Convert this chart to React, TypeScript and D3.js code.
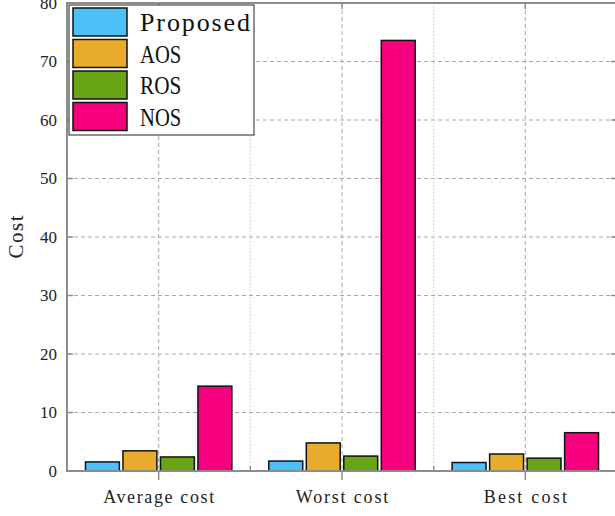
import React from 'react';
import * as d3 from 'd3';

const categories = ['Average cost', 'Worst cost', 'Best cost'];
const seriesNames = ['Proposed', 'AOS', 'ROS', 'NOS'];
const seriesColors = ['#4dbff9', '#e8ab2c', '#68a414', '#f7007f'];
const proposed = [1.55, 1.7, 1.45];
const aos = [3.45, 4.8, 2.9];
const ros = [2.4, 2.55, 2.2];
const nos = [14.5, 73.6, 6.55];
const yTicks = [0, 10, 20, 30, 40, 50, 60, 70, 80];

const W = 615, H = 516;
const L = 67, R = 617, T = 3, B = 471;

export default function App() {
  const series = [proposed, aos, ros, nos];
  const x = d3.scaleLinear().domain([0.5, 3.5]).range([L, R]);
  const y = d3.scaleLinear().domain([0, 80]).range([B, T]);
  const pitch = 0.2045;
  const bw = 0.185;
  const axisColor = '#8c8c8c';
  const serif = '"Liberation Serif", "DejaVu Serif", serif';
  return (
    <svg width={W} height={H} style={{ position: 'absolute', left: 0, top: 0, background: '#fff' }}>
      <rect x={0} y={0} width={W} height={H} fill="#fff" />
      {yTicks.slice(1, -1).map(t => (
        <line key={'hg' + t} x1={L} x2={R} y1={y(t)} y2={y(t)} stroke="#a8a8a8" strokeWidth={1} strokeDasharray="4,3" />
      ))}
      {categories.map((c, i) => (
        <line key={'vg' + i} x1={x(i + 1)} x2={x(i + 1)} y1={T} y2={B} stroke="#a8a8a8" strokeWidth={1} strokeDasharray="4,3" />
      ))}
      {[1.5, 2.5].map(v => (
        <line key={'vm' + v} x1={x(v)} x2={x(v)} y1={T} y2={B} stroke="#c8c8c8" strokeWidth={1} strokeDasharray="1.5,2" />
      ))}
      {series.map((s, si) =>
        s.map((v, ci) => {
          const cx = ci + 1 + (si - 1.5) * pitch;
          const x0 = x(cx - bw / 2);
          const x1 = x(cx + bw / 2);
          return (
            <rect key={si + '-' + ci} x={x0} y={y(v)} width={x1 - x0} height={y(0) - y(v)}
              fill={seriesColors[si]} stroke="#111" strokeWidth={1.5} />
          );
        })
      )}
      <rect x={L} y={T} width={R - L} height={B - T} fill="none" stroke={axisColor} strokeWidth={2} />
      {yTicks.map(t => (
        <g key={'yt' + t}>
          <line x1={L} x2={L + 6} y1={y(t)} y2={y(t)} stroke={axisColor} strokeWidth={1.5} />
          <line x1={R - 6} x2={R} y1={y(t)} y2={y(t)} stroke={axisColor} strokeWidth={1.5} />
          <text x={57} y={y(t)} dy="0.35em" textAnchor="end" fontFamily={serif} fontSize={17} fill="#222">{t}</text>
        </g>
      ))}
      {categories.map((c, i) => (
        <g key={'xt' + i}>
          <line x1={x(i + 1)} x2={x(i + 1)} y1={B} y2={B + 9} stroke={axisColor} strokeWidth={1.5} />
          <line x1={x(i + 1)} x2={x(i + 1)} y1={T} y2={T + 6} stroke={axisColor} strokeWidth={1.5} />
          <text x={x(i + 1)} y={503} textAnchor="middle" fontFamily={serif} fontSize={18} fill="#222"
            textLength={c.length * 9.25} lengthAdjust="spacing">{c}</text>
        </g>
      ))}
      {[1.5, 2.5].map(v => (
        <line key={'mt' + v} x1={x(v)} x2={x(v)} y1={B} y2={B - 5} stroke={axisColor} strokeWidth={1.5} />
      ))}
      <text transform={`translate(23,${237}) rotate(-90)`} textAnchor="middle" fontFamily={serif} fontSize={21} fill="#222"
        textLength={43} lengthAdjust="spacing">Cost</text>
      <g>
        <rect x={69} y={5} width={185} height={130} fill="#fff" stroke="#222" strokeWidth={1} />
        {seriesNames.map((n, i) => {
          const ry = 8 + i * 31.5;
          return (
            <g key={n}>
              <rect x={73} y={ry} width={54} height={28} fill={seriesColors[i]} stroke="#111" strokeWidth={1.5} />
              <text x={140} y={ry + 23} fontFamily={serif} fontSize={26} fill="#111"
                textLength={n.length * 13.75} lengthAdjust={n.length > 4 ? 'spacing' : 'spacingAndGlyphs'}>{n}</text>
            </g>
          );
        })}
      </g>
    </svg>
  );
}
